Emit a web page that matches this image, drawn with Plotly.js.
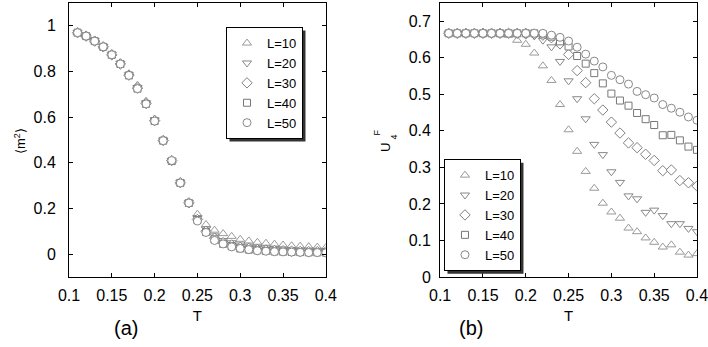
<!DOCTYPE html>
<html>
<head>
<meta charset="utf-8">
<script src="https://cdn.plot.ly/plotly-3.0.1.min.js"></script>
<style>
  html, body { margin: 0; padding: 0; background: #fff; }
  #graph { width: 708px; height: 347px; }
</style>
</head>
<body>
<div id="graph"></div>
<script>
const temps = [0.11, 0.12, 0.13, 0.14, 0.15, 0.16, 0.17, 0.18, 0.19, 0.20,
  0.21, 0.22, 0.23, 0.24, 0.25, 0.26, 0.27, 0.28, 0.29, 0.30,
  0.31, 0.32, 0.33, 0.34, 0.35, 0.36, 0.37, 0.38, 0.39, 0.40];

const sizes = ['L=10', 'L=20', 'L=30', 'L=40', 'L=50'];
const symbols = ['triangle-up', 'triangle-down', 'diamond', 'square', 'circle'];
const greys = ['#999', '#888', '#808080', '#777', '#888'];

// panel (a): <m^2>
const m2L10 = [0.970, 0.955, 0.935, 0.910, 0.878, 0.838, 0.790, 0.740, 0.670, 0.592,
  0.500, 0.410, 0.315, 0.228, 0.175, 0.130, 0.105, 0.090, 0.078, 0.065,
  0.058, 0.052, 0.048, 0.044, 0.040, 0.037, 0.035, 0.033, 0.031, 0.029];
const m2L20 = [0.970, 0.955, 0.935, 0.910, 0.875, 0.835, 0.786, 0.730, 0.663, 0.588,
  0.500, 0.410, 0.315, 0.226, 0.160, 0.110, 0.080, 0.060, 0.050, 0.040,
  0.035, 0.030, 0.027, 0.025, 0.022, 0.020, 0.019, 0.018, 0.017, 0.016];
const m2L30 = [0.970, 0.955, 0.933, 0.908, 0.873, 0.833, 0.784, 0.727, 0.660, 0.585,
  0.498, 0.410, 0.313, 0.225, 0.152, 0.100, 0.070, 0.050, 0.040, 0.030,
  0.025, 0.020, 0.018, 0.016, 0.015, 0.013, 0.012, 0.011, 0.011, 0.010];
const m2L40 = [0.970, 0.955, 0.933, 0.908, 0.873, 0.833, 0.783, 0.725, 0.658, 0.583,
  0.497, 0.408, 0.312, 0.224, 0.150, 0.097, 0.065, 0.045, 0.035, 0.025,
  0.020, 0.017, 0.014, 0.012, 0.011, 0.010, 0.009, 0.008, 0.008, 0.007];
const m2L50 = [0.970, 0.955, 0.933, 0.908, 0.873, 0.833, 0.783, 0.725, 0.658, 0.583,
  0.497, 0.410, 0.312, 0.224, 0.145, 0.095, 0.060, 0.045, 0.032, 0.025,
  0.020, 0.015, 0.013, 0.011, 0.010, 0.009, 0.008, 0.007, 0.007, 0.006];

// panel (b): U4 (Binder cumulant)
const u4L10 = [0.667, 0.667, 0.667, 0.667, 0.667, 0.667, 0.667, 0.662, 0.648, 0.637,
  0.613, 0.578, 0.538, 0.472, 0.403, 0.344, 0.289, 0.243, 0.202, 0.178,
  0.161, 0.134, 0.124, 0.107, 0.095, 0.082, 0.088, 0.068, 0.060, 0.064];
const u4L20 = [0.667, 0.667, 0.667, 0.667, 0.667, 0.667, 0.667, 0.667, 0.665, 0.662,
  0.660, 0.648, 0.630, 0.590, 0.537, 0.488, 0.433, 0.363, 0.335, 0.288,
  0.259, 0.222, 0.214, 0.177, 0.183, 0.168, 0.146, 0.146, 0.133, 0.124];
const u4L30 = [0.667, 0.667, 0.667, 0.667, 0.667, 0.667, 0.667, 0.667, 0.667, 0.667,
  0.665, 0.662, 0.655, 0.638, 0.609, 0.565, 0.532, 0.488, 0.457, 0.424,
  0.394, 0.367, 0.354, 0.336, 0.319, 0.291, 0.293, 0.264, 0.258, 0.249];
const u4L40 = [0.667, 0.667, 0.667, 0.667, 0.667, 0.667, 0.667, 0.667, 0.667, 0.667,
  0.667, 0.664, 0.658, 0.645, 0.631, 0.605, 0.584, 0.558, 0.530, 0.502,
  0.483, 0.469, 0.449, 0.432, 0.416, 0.388, 0.389, 0.374, 0.357, 0.348];
const u4L50 = [0.667, 0.667, 0.667, 0.667, 0.667, 0.667, 0.667, 0.667, 0.667, 0.667,
  0.667, 0.667, 0.662, 0.656, 0.646, 0.629, 0.610, 0.591, 0.575, 0.552,
  0.540, 0.528, 0.508, 0.499, 0.490, 0.472, 0.462, 0.451, 0.438, 0.429];

const m2Series = [m2L10, m2L20, m2L30, m2L40, m2L50];
const u4Series = [u4L10, u4L20, u4L30, u4L40, u4L50];

const FONT = 'Liberation Sans, Arial, sans-serif';

function makeTraces(series, xa, ya, legend) {
  return series.map((vals, i) => ({
    x: temps,
    y: vals,
    xaxis: xa,
    yaxis: ya,
    type: 'scatter',
    mode: 'markers',
    name: sizes[i],
    legend: legend,
    marker: {
      symbol: symbols[i],
      size: symbols[i] === 'square' ? 7 : 8,
      color: '#fff',
      line: { color: greys[i], width: 1 }
    }
  }));
}

function axisStyle(extra) {
  return Object.assign({
    showline: true,
    linecolor: '#000',
    linewidth: 1,
    mirror: 'ticks',
    ticks: 'inside',
    ticklen: 4,
    tickcolor: '#000',
    showgrid: false,
    zeroline: false,
    ticklabeloverflow: 'allow',
    tickfont: { family: FONT, size: 16, color: '#000' }
  }, extra);
}

const legendStyle = {
  bgcolor: '#fff',
  bordercolor: '#000',
  borderwidth: 1,
  font: { family: FONT, size: 13, color: '#000' },
  itemwidth: 30,
  tracegroupgap: 0,
  xanchor: 'right',
  yanchor: 'top'
};

const xTitle = { text: 'T', font: { family: FONT, size: 15 }, standoff: 7 };

const layout = {
  width: 708,
  height: 347,
  margin: { l: 69, r: 11, t: 3, b: 70 },
  paper_bgcolor: '#fff',
  plot_bgcolor: '#fff',
  font: { family: FONT, size: 14, color: '#000' },
  xaxis: axisStyle({ domain: [0, 0.409], range: [0.1, 0.4], dtick: 0.05, tick0: 0.1,
    ticklabelstandoff: 4, title: xTitle }),
  yaxis: axisStyle({ range: [-0.1, 1.1], tickvals: [0, 0.2, 0.4, 0.6, 0.8, 1],
    ticklabelstandoff: 9 }),
  xaxis2: axisStyle({ domain: [0.591, 1], range: [0.1, 0.4], dtick: 0.05, tick0: 0.1,
    anchor: 'y2', ticklabelstandoff: 4, title: xTitle }),
  yaxis2: axisStyle({ range: [0, 0.75], dtick: 0.1, anchor: 'x2', ticklabelstandoff: 5 }),
  legend: Object.assign({ x: 0.3726, y: 0.912 }, legendStyle),
  legend2: Object.assign({ x: 0.7197, y: 0.43 }, legendStyle),
  annotations: [
    { text: '(a)', xref: 'paper', yref: 'paper', x: 0.068, y: -0.235, showarrow: false,
      font: { family: FONT, size: 20 } },
    { text: '(b)', xref: 'paper', yref: 'paper', x: 0.64, y: -0.235, showarrow: false,
      font: { family: FONT, size: 20 } },
    { text: '⟨m<sup>2</sup>⟩', xref: 'paper', yref: 'paper', x: -0.094, y: 0.496,
      textangle: -90, showarrow: false, font: { family: FONT, size: 13 } },
    { text: 'U', xref: 'paper', yref: 'paper', x: 0.503, y: 0.474, textangle: -90,
      showarrow: false, font: { family: FONT, size: 13 } },
    { text: 'F', xref: 'paper', yref: 'paper', x: 0.490, y: 0.526, textangle: -90,
      showarrow: false, font: { family: FONT, size: 9 } },
    { text: '4', xref: 'paper', yref: 'paper', x: 0.518, y: 0.51, textangle: -90,
      showarrow: false, font: { family: FONT, size: 9 } }
  ],
  shapes: []
};

const data = makeTraces(m2Series, 'x', 'y', 'legend')
  .concat(makeTraces(u4Series, 'x2', 'y2', 'legend2'));

// drop shadow behind both legend boxes, placed from their drawn size
function addShadows(gd) {
  const sz = gd._fullLayout._size;
  const root = gd.getBoundingClientRect();
  const shapes = [];
  ['legend', 'legend2'].forEach(id => {
    const bg = gd.querySelector('g.' + id + ' rect.bg');
    if (!bg) return;
    const r = bg.getBoundingClientRect();
    const px = v => (v - root.left - sz.l) / sz.w;
    const py = v => 1 - (v - root.top - sz.t) / sz.h;
    shapes.push({
      type: 'rect', xref: 'paper', yref: 'paper', layer: 'above',
      x0: px(r.left + 3), x1: px(r.right + 3),
      y0: py(r.bottom + 3), y1: py(r.top + 3),
      fillcolor: '#333', line: { width: 0 }
    });
  });
  return Plotly.relayout(gd, { shapes: shapes });
}

Plotly.newPlot('graph', data, layout, { staticPlot: true, displayModeBar: false })
  .then(addShadows);
</script>
</body>
</html>
